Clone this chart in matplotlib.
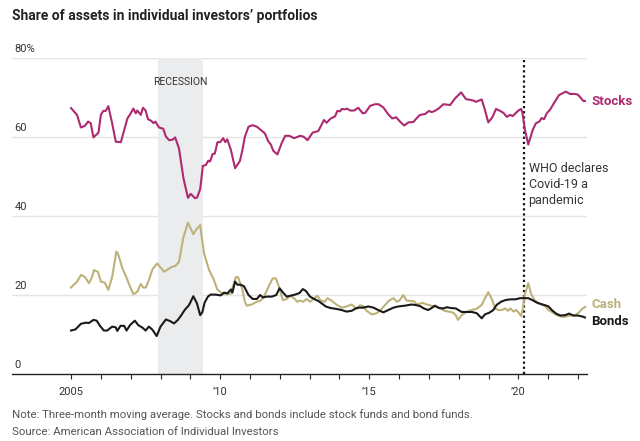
import matplotlib
matplotlib.use("Agg")
import matplotlib.pyplot as plt

plt.rcParams['font.family'] = ['Roboto', 'DejaVu Sans']

# data (fractional years, percent)
stocks_t = [2005.0, 2005.2, 2005.33, 2005.46, 2005.57, 2005.66, 2005.75, 2005.92, 2006.0, 2006.08,
            2006.16, 2006.25, 2006.38, 2006.5, 2006.67, 2006.89, 2006.97, 2007.09, 2007.17, 2007.22,
            2007.34, 2007.41, 2007.5, 2007.58, 2007.69, 2007.76, 2007.83, 2007.95, 2008.09, 2008.18,
            2008.29, 2008.4, 2008.49, 2008.62, 2008.77, 2008.92, 2009.01, 2009.16, 2009.23, 2009.33,
            2009.42, 2009.52, 2009.6, 2009.66, 2009.75, 2009.82, 2009.91, 2010.0, 2010.1, 2010.17,
            2010.24, 2010.36, 2010.5, 2010.66, 2010.74, 2010.83, 2010.95, 2011.09, 2011.23, 2011.36,
            2011.5, 2011.62, 2011.7, 2011.78, 2011.92, 2012.06, 2012.18, 2012.32, 2012.48, 2012.68,
            2012.79, 2012.93, 2013.1, 2013.29, 2013.48, 2013.57, 2013.71, 2013.85, 2013.93, 2014.02,
            2014.08, 2014.19, 2014.25, 2014.36, 2014.49, 2014.63, 2014.78, 2014.86, 2015.03, 2015.2,
            2015.31, 2015.47, 2015.64, 2015.77, 2015.9, 2016.03, 2016.17, 2016.31, 2016.48, 2016.57,
            2016.68, 2016.76, 2016.87, 2017.0, 2017.09, 2017.2, 2017.34, 2017.48, 2017.71, 2017.88,
            2018.08, 2018.24, 2018.39, 2018.5, 2018.58, 2018.67, 2018.77, 2018.88, 2018.99, 2019.12,
            2019.25, 2019.39, 2019.5, 2019.61, 2019.72, 2019.81, 2019.89, 2020.0, 2020.09, 2020.13,
            2020.22, 2020.33, 2020.39, 2020.48, 2020.59, 2020.7, 2020.78, 2020.86, 2020.95, 2021.06,
            2021.21, 2021.36, 2021.59, 2021.73, 2021.9, 2022.0, 2022.18, 2022.23]
stocks = [67.3, 65.6, 62.4, 62.8, 63.9, 63.5, 59.9, 61.1, 65.6, 66.6,
          66.6, 67.8, 63.4, 58.8, 58.7, 64.7, 65.6, 67.2, 66.0, 66.7,
          65.6, 67.4, 66.7, 64.5, 64.1, 63.5, 63.9, 62.4, 62.1, 60.1,
          59.2, 59.3, 59.9, 57.1, 49.5, 44.6, 45.6, 44.5, 44.7, 46.8,
          52.7, 52.9, 54.0, 53.8, 55.7, 55.8, 58.7, 58.7, 59.7, 58.7,
          59.4, 56.7, 52.1, 53.9, 56.5, 60.1, 62.6, 63.0, 62.6, 61.8,
          60.9, 58.8, 58.1, 56.5, 55.6, 58.4, 60.3, 60.3, 59.7, 60.3,
          60.1, 59.2, 61.1, 61.5, 64.3, 63.6, 64.7, 65.2, 66.6, 66.5,
          67.1, 67.0, 67.2, 66.7, 66.7, 67.4, 66.0, 66.1, 67.9, 68.3,
          68.3, 67.5, 65.7, 64.7, 65.0, 63.9, 62.9, 63.7, 63.8, 64.6,
          65.5, 65.7, 65.8, 66.6, 66.3, 66.6, 67.3, 68.3, 68.1, 69.8,
          71.3, 69.6, 69.4, 69.2, 68.9, 69.2, 69.5, 66.8, 63.7, 64.9,
          67.1, 66.6, 66.1, 65.1, 65.6, 65.3, 65.9, 66.7, 67.1, 66.3,
          61.8, 58.1, 59.6, 61.8, 63.5, 63.9, 64.8, 64.5, 66.0, 66.9,
          68.8, 70.6, 71.5, 70.9, 70.9, 70.7, 69.1, 69.1]

cash_t = [2005.0, 2005.2, 2005.34, 2005.46, 2005.6, 2005.69, 2005.77, 2005.9, 2006.0, 2006.13,
          2006.25, 2006.38, 2006.52, 2006.58, 2006.72, 2006.86, 2007.0, 2007.09, 2007.22, 2007.34,
          2007.42, 2007.51, 2007.62, 2007.73, 2007.89, 2008.12, 2008.29, 2008.4, 2008.49, 2008.62,
          2008.76, 2008.92, 2009.1, 2009.21, 2009.33, 2009.38, 2009.46, 2009.63, 2009.77, 2009.91,
          2010.07, 2010.24, 2010.36, 2010.52, 2010.6, 2010.74, 2010.82, 2010.89, 2011.06, 2011.23,
          2011.34, 2011.45, 2011.62, 2011.76, 2011.87, 2011.99, 2012.1, 2012.23, 2012.35, 2012.46,
          2012.59, 2012.68, 2012.79, 2012.9, 2013.01, 2013.12, 2013.26, 2013.37, 2013.51, 2013.59,
          2013.73, 2013.91, 2014.08, 2014.24, 2014.41, 2014.58, 2014.69, 2014.8, 2014.91, 2015.08,
          2015.22, 2015.36, 2015.53, 2015.67, 2015.81, 2015.92, 2016.01, 2016.14, 2016.25, 2016.38,
          2016.5, 2016.6, 2016.79, 2016.93, 2017.07, 2017.2, 2017.37, 2017.52, 2017.65, 2017.79,
          2017.9, 2017.97, 2018.1, 2018.27, 2018.44, 2018.6, 2018.77, 2018.88, 2018.99, 2019.12,
          2019.22, 2019.33, 2019.44, 2019.56, 2019.65, 2019.73, 2019.84, 2019.92, 2020.0, 2020.09,
          2020.15, 2020.2, 2020.28, 2020.33, 2020.42, 2020.54, 2020.68, 2020.79, 2020.9, 2021.01,
          2021.15, 2021.29, 2021.44, 2021.57, 2021.73, 2021.9, 2022.03, 2022.14, 2022.24]
cash = [21.9, 23.4, 25.1, 24.6, 23.0, 24.3, 26.3, 25.9, 23.4, 23.1,
        21.3, 24.6, 31.0, 30.3, 26.8, 24.4, 21.7, 20.2, 20.8, 22.8,
        21.9, 21.9, 24.0, 26.5, 28.0, 25.9, 26.7, 27.2, 27.3, 28.4,
        34.4, 38.3, 35.4, 36.7, 37.7, 34.8, 30.5, 26.3, 24.2, 21.3,
        20.4, 20.2, 20.4, 24.5, 24.5, 21.5, 18.5, 17.3, 17.6, 18.3,
        18.5, 19.3, 22.1, 24.2, 24.2, 21.7, 18.7, 19.0, 19.8, 19.3,
        18.3, 18.6, 18.3, 19.0, 18.3, 18.9, 19.8, 18.6, 18.3, 19.2,
        18.6, 17.5, 16.8, 17.1, 17.6, 16.5, 17.4, 17.2, 16.0, 15.1,
        15.3, 16.0, 17.5, 18.6, 19.2, 18.3, 18.6, 20.0, 18.6, 18.5,
        18.4, 17.6, 18.0, 17.6, 17.3, 17.1, 16.7, 16.0, 15.8, 15.6,
        14.9, 13.7, 14.9, 15.8, 16.2, 16.5, 17.5, 19.2, 20.7, 18.8,
        16.6, 16.2, 16.2, 16.6, 16.0, 16.6, 15.8, 16.2, 15.6, 14.7,
        16.6, 19.6, 21.7, 23.0, 20.4, 18.7, 17.9, 17.6, 17.1, 16.2,
        15.6, 14.9, 14.5, 14.5, 14.8, 14.9, 15.6, 16.5, 17.0]

bonds_t = [2005.0, 2005.15, 2005.33, 2005.5, 2005.6, 2005.75, 2005.86, 2005.97, 2006.1, 2006.21,
           2006.38, 2006.5, 2006.55, 2006.66, 2006.78, 2006.86, 2006.98, 2007.14, 2007.25, 2007.4,
           2007.5, 2007.61, 2007.73, 2007.87, 2008.0, 2008.18, 2008.32, 2008.45, 2008.57, 2008.68,
           2008.81, 2008.96, 2009.1, 2009.22, 2009.33, 2009.4, 2009.48, 2009.59, 2009.68, 2009.85,
           2010.02, 2010.13, 2010.24, 2010.36, 2010.41, 2010.5, 2010.58, 2010.69, 2010.8, 2010.95,
           2011.09, 2011.23, 2011.34, 2011.43, 2011.57, 2011.74, 2011.88, 2011.99, 2012.1, 2012.23,
           2012.35, 2012.51, 2012.66, 2012.77, 2012.88, 2013.01, 2013.15, 2013.29, 2013.4, 2013.54,
           2013.7, 2013.88, 2014.07, 2014.24, 2014.41, 2014.52, 2014.63, 2014.8, 2014.97, 2015.14,
           2015.3, 2015.47, 2015.64, 2015.81, 2015.97, 2016.2, 2016.42, 2016.59, 2016.7, 2016.83,
           2016.97, 2017.07, 2017.2, 2017.34, 2017.48, 2017.6, 2017.74, 2017.9, 2018.1, 2018.27,
           2018.44, 2018.6, 2018.77, 2018.88, 2019.02, 2019.16, 2019.27, 2019.42, 2019.56, 2019.72,
           2019.89, 2020.06, 2020.22, 2020.33, 2020.47, 2020.61, 2020.76, 2020.9, 2021.01, 2021.12,
           2021.26, 2021.41, 2021.57, 2021.7, 2021.84, 2022.0, 2022.17, 2022.23]
bonds = [11.0, 11.3, 12.7, 13.0, 12.9, 13.7, 13.5, 12.2, 11.0, 11.0,
         12.0, 11.8, 10.9, 12.2, 12.2, 11.0, 12.4, 13.5, 12.4, 11.7,
         11.0, 12.0, 11.2, 9.6, 12.0, 13.8, 13.4, 12.8, 13.6, 14.7,
         16.2, 17.5, 19.7, 17.9, 14.9, 15.6, 18.1, 19.6, 20.1, 20.1,
         19.9, 20.6, 20.4, 21.4, 20.6, 23.4, 22.6, 22.6, 22.2, 20.0,
         19.0, 19.0, 20.0, 19.4, 19.6, 19.6, 20.0, 21.7, 20.7, 19.6,
         19.8, 20.1, 20.5, 21.5, 21.0, 19.6, 19.0, 18.5, 17.9, 17.1,
         16.7, 16.5, 16.2, 15.8, 16.0, 16.5, 16.8, 16.8, 17.1, 16.8,
         16.2, 15.6, 16.2, 16.8, 17.1, 17.3, 17.6, 17.4, 17.2, 16.6,
         16.2, 16.6, 17.3, 16.7, 16.6, 16.9, 16.7, 16.6, 15.7, 15.7,
         15.7, 15.4, 14.1, 15.1, 15.5, 16.2, 17.5, 18.3, 18.7, 18.9,
         18.9, 19.2, 19.2, 19.2, 18.7, 18.1, 17.7, 17.4, 17.1, 16.2,
         15.3, 14.8, 14.9, 15.3, 14.8, 14.8, 14.5, 14.3]

yticks = [0, 20, 40, 60, 80]
ytick_labels = ['0', '20', '40', '60', '80%']
xticks_major = [2005, 2010, 2015, 2020]
xtick_labels = ['2005', '\u201910', '\u201915', '\u201920']
recession = (2007.92, 2009.42)
who_date = 2020.19

c_stocks = '#ad2a70'
c_cash = '#bdb27a'
c_bonds = '#1a1a1a'
c_text = '#333333'

fig = plt.figure(figsize=(6.4, 4.41), dpi=100)
ax = fig.add_axes([12/640, 1 - 374/441, 575/640, 316/441])
ax.set_xlim(2003.02, 2022.3)
ax.set_ylim(0, 80)

for s in ['top', 'right', 'left']:
    ax.spines[s].set_visible(False)
ax.spines['bottom'].set_color('#222222')
ax.spines['bottom'].set_linewidth(1.0)

# gridlines + y labels inside the plot
for v, lab in zip(yticks, ytick_labels):
    if v > 0:
        ax.axhline(v, color='#e4e4e4', lw=1.0, zorder=0)
    ax.text(0.004, v + 1.0, lab, transform=ax.get_yaxis_transform(),
            ha='left', va='bottom', fontsize=8, color=c_text)
ax.set_yticks([])

ax.set_xticks(xticks_major)
ax.set_xticklabels(xtick_labels, fontsize=8, color=c_text)
ax.set_xticks(range(2005, 2023), minor=True)
ax.tick_params(axis='x', which='both', direction='out', length=3.5, width=0.8,
               color='#222222', pad=6)

ax.axvspan(recession[0], recession[1], color='#ebecee', lw=0, zorder=0)
ax.text(sum(recession) / 2, 74, 'RECESSION', ha='center', va='center',
        fontsize=7.5, color=c_text)

ax.axvline(who_date, color='#111111', lw=1.6, linestyle=(0, (1, 1.3)), zorder=1)
ax.text(who_date + 0.15, 53.6, 'WHO declares\nCovid-19 a\npandemic', ha='left', va='top',
        fontsize=9, color=c_text, linespacing=1.3)

ax.plot(stocks_t, stocks, color=c_stocks, lw=1.5, zorder=3)
ax.plot(cash_t, cash, color=c_cash, lw=1.5, zorder=3)
ax.plot(bonds_t, bonds, color=c_bonds, lw=1.5, zorder=4)

ax.text(2022.45, stocks[-1], 'Stocks', color=c_stocks, fontsize=9.5,
        fontweight='bold', va='center', ha='left', clip_on=False)
ax.text(2022.45, 17.6, 'Cash', color=c_cash, fontsize=9.5,
        fontweight='bold', va='center', ha='left', clip_on=False)
ax.text(2022.45, 13.2, 'Bonds', color=c_bonds, fontsize=9.5,
        fontweight='bold', va='center', ha='left', clip_on=False)

fig.text(12/640, 1 - 16/441, 'Share of assets in individual investors\u2019 portfolios',
         fontsize=10, fontweight='bold', color='#222222', ha='left', va='center')
fig.text(12/640, 1 - 415/441,
         'Note: Three-month moving average. Stocks and bonds include stock funds and bond funds.',
         fontsize=8.2, color='#555555', ha='left', va='center')
fig.text(12/640, 1 - 432/441, 'Source: American Association of Individual Investors',
         fontsize=8.2, color='#555555', ha='left', va='center')

fig.savefig('out.png', dpi=100)
